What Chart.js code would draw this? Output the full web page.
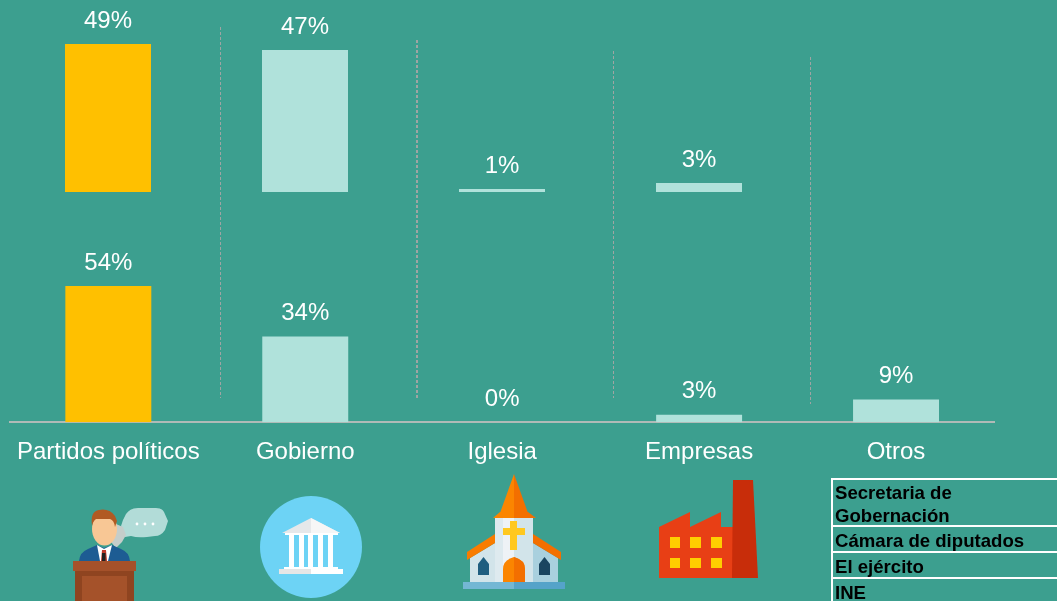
<!DOCTYPE html>
<html><head><meta charset="utf-8">
<script src="https://cdn.jsdelivr.net/npm/chart.js@4"></script>
<style>
html,body{margin:0;padding:0;background:#3c9f8f;width:1057px;height:601px;overflow:hidden;font-family:"Liberation Sans",Arial,sans-serif}
canvas{position:absolute;left:0}
#wrapA{position:absolute;left:0;top:0;width:1057px;height:601px}
#wrapB{position:absolute;left:0;top:194px;width:1057px;height:289px}
svg{position:absolute;overflow:visible}
table{position:absolute;left:831px;top:478px;width:240px;border-collapse:collapse;font:bold 18.6px/22px "Liberation Sans",Arial,sans-serif;color:#000}
td{border:2px solid #fff;padding:2px 0 0 2px;height:22px;box-sizing:content-box;vertical-align:top}
td div{position:relative;top:1px}
tr:first-child td{height:45px;padding-top:0;line-height:22.5px}
tr:first-child td div{top:2px}
</style></head><body>
<div id="wrapA"><canvas id="top"></canvas></div>
<div id="wrapB"><canvas id="bottom"></canvas></div>

<svg style="left:0;top:0" width="1057" height="601">
 <!-- speaker -->
 <g>
  <path d="M126 514q4-6 12-6h18q6 0 8 4l4 9-3 9q-4 6-10 6l-8 1q-10 1-16-1l-6 1-2-5-2-6 2-6z" fill="#b2dcd8"/>
  <circle cx="137" cy="524" r="1.4" fill="#fff"/><circle cx="145" cy="524" r="1.4" fill="#fff"/><circle cx="153" cy="524" r="1.4" fill="#fff"/>
  <path d="M116 524l7 3 3 8-4 7-6 6-5-6z" fill="#c5cdca"/>
  <path d="M79 561q1-9 9-12l9-4 7 3 8-3 9 4q8 3 9 12z" fill="#1d5c93"/>
  <path d="M97 545l7 4 8-4-4 16h-8z" fill="#fff"/><path d="M102 550h4l1 11h-6z" fill="#c0392b"/><rect x="102" y="553" width="3.500" height="8" fill="#222"/>
  <ellipse cx="104.500" cy="529" rx="12.500" ry="16.500" fill="#f8c795"/>
  <path d="M92 526q-2-15 7-16 10-2 16 6l2 5-2 6q-1-7-5-8h-14q-3 2-4 7z" fill="#b15a22"/>
  <rect x="73" y="561" width="63" height="10" fill="#a5512a"/>
  <rect x="75" y="571" width="59" height="30" fill="#8f4420"/>
  <rect x="82" y="576" width="45" height="25" fill="#a5522a"/>
 </g>
 <!-- government -->
 <g>
  <circle cx="311" cy="547" r="51" fill="#6dd3f5"/>
  <path d="M282 533l29-15 29 15z" fill="#e6e8ea"/><path d="M311 518l29 15h-29z" fill="#f6f6f6"/>
  <rect x="285" y="533" width="53" height="2" fill="#fff"/>
  <g fill="#fff">
   <rect x="289" y="535" width="5" height="33"/><rect x="299" y="535" width="5" height="33"/><rect x="308" y="535" width="5" height="33"/><rect x="318" y="535" width="5" height="33"/><rect x="328" y="535" width="5" height="33"/>
   <rect x="284" y="567" width="54" height="2"/>
   <rect x="311" y="569" width="32" height="5"/>
  </g>
  <rect x="279" y="569" width="32" height="5" fill="#e6e6e6"/>
 </g>
 <!-- church -->
 <g>
  <path d="M514 474l-14 39h14z" fill="#fb8500"/><path d="M514 474l14 39h-14z" fill="#f36f00"/>
  <path d="M500 512h14v6h-21z" fill="#fb8500"/><path d="M528 512h-14v6h22z" fill="#f36f00"/>
  <rect x="495" y="518" width="19" height="65" fill="#eef2f6"/><rect x="514" y="518" width="19" height="65" fill="#d2e4ea"/>
  <rect x="495" y="518" width="8" height="65" fill="#d2e4ea" opacity=".55"/>
  <path d="M470 558l25-15v40h-25z" fill="#d2e4ea"/><path d="M558 558l-25-15v40h25z" fill="#a9d0de"/>
  <path d="M495 534v9l-28 17v-8z" fill="#f97c00"/><path d="M533 534v9l28 17v-8z" fill="#f36f00"/>
  <path d="M510 521h7v7h8v7h-8v15h-7v-15h-7v-7h7z" fill="#ffc81f"/>
  <path d="M503 583v-14q0-9 11-12 11 3 11 12v14z" fill="#fb8500"/><path d="M514 557q11 3 11 12v14h-11z" fill="#f36f00"/>
  <path d="M478 575v-11l5.500-7 5.500 7v11z" fill="#1f5e80"/><path d="M539 575v-11l5.500-7 5.500 7v11z" fill="#1a4560"/>
  <rect x="463" y="582" width="51" height="7" fill="#74b7d4"/><rect x="514" y="582" width="51" height="7" fill="#55a3c9"/>
 </g>
 <!-- factory -->
 <g>
  <path d="M659 527l31-15v15l31-15v15h12v51h-74z" fill="#e83f15"/>
  <path d="M733 480h20l5 98h-26z" fill="#c82d0a"/>
  <g fill="#ffce00">
   <rect x="670" y="537" width="10" height="11"/><rect x="690" y="537" width="11" height="11"/><rect x="711" y="537" width="11" height="11"/>
   <rect x="670" y="558" width="10" height="10"/><rect x="690" y="558" width="11" height="10"/><rect x="711" y="558" width="11" height="10"/>
  </g>
 </g>
</svg>

<table id="others"></table>

<script>
const categories = ["Partidos políticos","Gobierno","Iglesia","Empresas","Otros"];
const valuesTop = [49,47,1,3,null];
const valuesBottom = [54,34,0,3,9];
const otherItems = ["Secretaria de<br>Gobernación","Cámara de diputados","El ejército","INE"];

const barColors = ["#ffc000","#b0e2db","#b0e2db","#b0e2db","#b0e2db"];
const WHITE = "#ffffff";
const FONT = '"Liberation Sans", Arial, sans-serif';

const valueLabels = {
  id:"valueLabels",
  afterDatasetsDraw(chart){
    const {ctx} = chart;
    ctx.save();
    ctx.fillStyle = WHITE;
    ctx.font = "24px " + FONT;
    ctx.textAlign = "center";
    ctx.textBaseline = "middle";
    chart.getDatasetMeta(0).data.forEach((bar,i)=>{
      const v = chart.data.datasets[0].data[i];
      if(v===null) return;
      ctx.fillText(v + "%", bar.x, bar.y - 23);
    });
    ctx.restore();
  }
};

const sepTop = [27,40,51,57];
const sepBottom = [398,398,398,404];
const sepWidth = [1,2,1,1];
const sepShift = [14,13.5,13,13];
const separators = {
  id:"separators",
  beforeDatasetsDraw(chart){
    const {ctx, scales:{x}} = chart;
    ctx.save();
    ctx.strokeStyle = "#9fa5a3";
    ctx.setLineDash([3,2]);
    for(let i=0;i<categories.length-1;i++){
      const px = (x.getPixelForValue(i)+x.getPixelForValue(i+1))/2 + sepShift[i];
      ctx.lineWidth = sepWidth[i];
      ctx.beginPath();
      ctx.moveTo(px, sepTop[i]);
      ctx.lineTo(px, sepBottom[i]);
      ctx.stroke();
    }
    ctx.restore();
  }
};

function makeChart(id, values, yMax, showAxis, pad, plugins){
  return new Chart(document.getElementById(id),{
    type:"bar",
    data:{labels:categories,datasets:[{data:values,backgroundColor:barColors,borderWidth:0,
      barPercentage:86/197,categoryPercentage:1}]},
    options:{
      responsive:true,maintainAspectRatio:false,animation:false,
      layout:{padding:pad},
      plugins:{legend:{display:false},tooltip:{enabled:false},title:{display:false}},
      scales:{
        x:{
          display:showAxis,
          grid:{display:false,drawTicks:false},
          border:{display:showAxis,color:"#b0bab7",width:2},
          ticks:{color:WHITE,font:{size:24,family:FONT},padding:16,maxRotation:0,autoSkip:false}
        },
        y:{display:false,min:0,max:yMax}
      }
    },
    plugins
  });
}
document.getElementById("others").innerHTML = otherItems.map(t=>"<tr><td><div>"+t+"</div></td></tr>").join("");

makeChart("top", valuesTop, 63.6, false, {left:9.5,right:62.5,top:0,bottom:409},
  [separators, valueLabels]);
makeChart("bottom", valuesBottom, 90.5, true, {left:9.5,right:62.5,top:0,bottom:0},
  [valueLabels]);
</script>
</body></html>
